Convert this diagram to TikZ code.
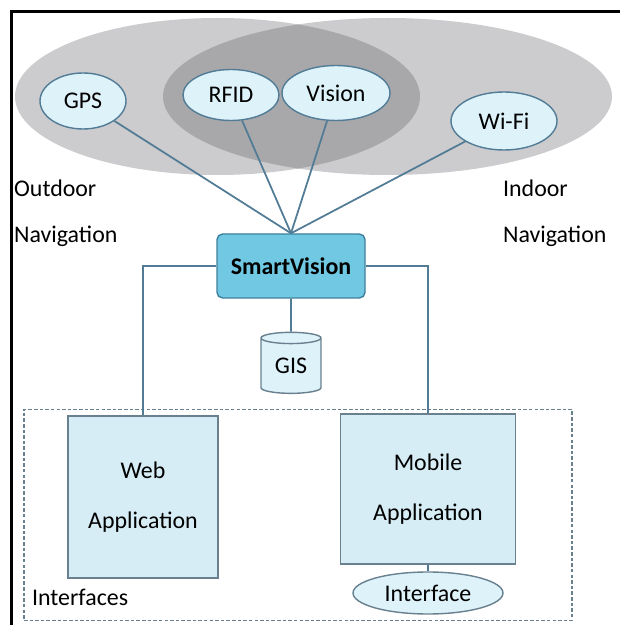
\documentclass[tikz,border=0pt]{standalone}
\usepackage{fontspec}
\setmainfont{Carlito}
\usepackage{tikz}
\usetikzlibrary{shapes.geometric, arrows.meta, positioning, backgrounds}
\pgfdeclarelayer{fondo}
\pgfsetlayers{fondo,background,main}
\definecolor{grisClaro}{RGB}{204,204,206}
\definecolor{grisOscuro}{RGB}{168,168,170}
\definecolor{azulLinea}{RGB}{82,124,150}
\definecolor{celeste}{RGB}{222,242,250}
\definecolor{cianSV}{RGB}{112,200,226}
\definecolor{azulBorde}{RGB}{62,128,158}
\definecolor{celesteApp}{RGB}{214,237,245}
\definecolor{grisBorde}{RGB}{105,128,142}
\tikzset{
  sv/sensor/.style={ellipse, draw=azulLinea, fill=celeste, line width=2pt,
    inner sep=0pt, font=\fontsize{34}{40}\selectfont},
  sv/core/.style={rectangle, rounded corners=8pt, draw=azulBorde, fill=cianSV,
    line width=2pt, minimum width=7.4cm, minimum height=3.2cm,
    font=\fontsize{34}{40}\selectfont\bfseries},
  sv/db/.style={cylinder, shape border rotate=90, aspect=0.35, draw=grisBorde,
    fill=celeste, line width=2pt, minimum width=3cm, minimum height=3.05cm,
    inner sep=0pt, font=\fontsize{34}{40}\selectfont},
  sv/app/.style={rectangle, draw=grisBorde, fill=celesteApp, line width=2pt,
    align=center, font=\fontsize{34}{72}\selectfont},
  sv/lbl/.style={inner sep=0pt, font=\fontsize{34}{65}\selectfont},
  sv/con/.style={draw=azulLinea, line width=2.5pt},
  sv/zona/.style={draw=grisBorde, line width=1.6pt,
    dash pattern=on 5pt off 3pt}
}

\begin{document}
\begin{tikzpicture}[x=1cm, y=1cm]
  \useasboundingbox (0,0) rectangle (31,31.25);

  % Fondo y zonas outdoor / indoor
  \begin{pgfonlayer}{fondo}
    \fill[white] (0,0) rectangle (31,31.25);
    \fill[grisClaro] (10.875,26.425) ellipse [x radius=10.125, y radius=3.925];
    \fill[grisClaro] (19.375,26.425) ellipse [x radius=11.225, y radius=3.925];
    \clip (10.875,26.425) ellipse [x radius=10.125, y radius=3.925];
    \fill[grisOscuro] (19.375,26.425) ellipse [x radius=11.225, y radius=3.925];
  \end{pgfonlayer}
  % Marco
  \draw[black, line width=0.15cm] (0.55,0) -- (0.55,30.65) -- (31,30.65);

  % Sensores
  \node[sv/sensor, minimum width=4.3cm, minimum height=2.8cm]  at (4.15, 26.2)   (gps)  {GPS};
  \node[sv/sensor, minimum width=4.8cm, minimum height=2.55cm] at (11.55, 26.5)  (rfid) {RFID};
  \node[sv/sensor, minimum width=5.4cm, minimum height=2.75cm] at (16.8, 26.6)   (vis)  {Vision};
  \node[sv/sensor, minimum width=5.3cm, minimum height=2.9cm]  at (25.2, 25.2)   (wifi) {Wi-Fi};

  \node[sv/lbl, anchor=west, align=left] at (0.7, 20.6)   (outd) {Outdoor\\Navigation};
  \node[sv/lbl, anchor=west, align=left] at (25.15, 20.6) (ind)  {Indoor\\Navigation};

  % Nucleo y base de datos
  \node[sv/core] at (14.55, 17.95) (sv)  {SmartVision};
  \node[sv/db]   at (14.55, 12.95) (gis) {GIS};

  % Interfaces
  \node[sv/zona, minimum width=27.4cm, minimum height=10.55cm] at (14.9, 5.5) (zona) {};
  \node[sv/app, minimum width=7.5cm, minimum height=8.1cm] at (7.15, 6.4) (web) {Web\\Application};
  \node[sv/app, minimum width=8.75cm, minimum height=7.5cm] at (21.4, 6.8) (mob) {Mobile\\Application};
  \node[sv/sensor, draw=grisBorde, minimum width=7.5cm, minimum height=2.1cm]
        at (21.4, 1.6) (intf) {Interface};
  \node[sv/lbl, anchor=west] at (1.6, 1.4) (ifz) {Interfaces};

  % Conexiones
  \begin{scope}[on background layer]
    \foreach \s in {gps, rfid, vis, wifi}
      \draw[sv/con] (\s) -- (sv.north);
  \end{scope}
  \draw[sv/con] (sv.west) -| (web.north);
  \draw[sv/con] (sv.east) -| (mob.north);
  \draw[sv/con] (sv.south) -- (gis.north);
  \draw[sv/con] (mob.south) -- (intf.north);
\end{tikzpicture}
\end{document}
